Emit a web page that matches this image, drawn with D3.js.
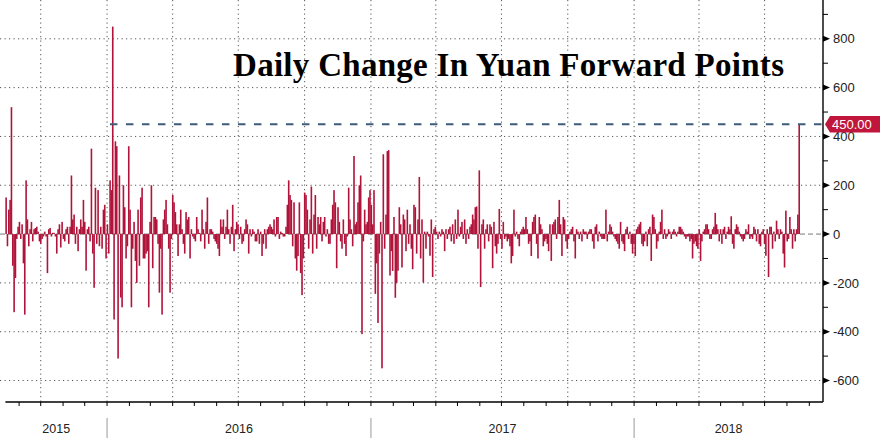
<!DOCTYPE html>
<html><head><meta charset="utf-8">
<script src="https://cdn.jsdelivr.net/npm/d3@7"></script>
<style>
html,body{margin:0;padding:0;background:#fff;}
svg{display:block;}
</style></head>
<body>
<svg id="chart" width="888" height="438"></svg>
<script>
// ---------------- DATA ----------------
const title = "Daily Change In Yuan Forward Points";
const firstDate = "2015-08-14";
const lastDate = "2018-08-18";
// daily change in forward points, read left to right off the picture
const values = [
  // Aug 2015 - Jan 2016
  150,-50,100,140,520,-130,-320,-180,-20,30,
  50,-20,40,-120,-330,220,60,-50,20,50,
  -30,20,25,30,10,-30,-40,-20,-10,10,
  -10,-160,20,25,-10,5,5,-10,-80,20,
  40,-55,50,-20,-30,20,30,-40,30,240,
  60,80,-40,30,-70,20,60,30,140,50,
  -150,20,30,-30,350,-80,-220,190,-40,180,
  -50,30,-60,100,120,-100,40,-80,220,180,
  850,-350,380,360,-510,
  // Jan 2016 - Jun 2016
  240,-260,-300,200,110,-100,-50,360,100,-300,
  -60,50,-110,-200,100,-130,150,190,-100,-100,
  -80,-70,-300,50,200,-140,70,70,60,-40,
  -240,-60,-330,60,100,140,40,-60,-240,-20,
  160,130,90,40,-90,40,100,20,-40,-80,
  90,60,70,-100,20,-10,-20,-30,70,20,
  5,-30,100,20,-60,50,150,-40,20,20,
  10,-20,-30,-40,-60,-90,60,30,60,-20,
  30,100,20,-40,30,120,-70,20,
  // Jun 2016 - Dec 2016
  50,40,-20,30,-40,-30,20,60,40,-80,
  20,-10,20,10,-30,-30,20,-40,10,-90,
  -40,20,-60,20,30,40,30,20,60,-10,
  70,70,-20,10,5,-10,-10,30,120,220,
  160,140,-50,130,-100,-150,-90,130,-160,-250,
  -100,170,160,100,-60,60,195,-80,80,160,
  -60,70,40,70,-30,50,70,-10,20,-40,
  -40,60,120,180,130,-140,110,50,-30,-60,
  60,-40,-90,-10,190,60,20,-50,320,
  // Dec 2016 - Jun 2017
  40,50,130,200,240,-410,-30,100,40,50,
  150,180,120,40,180,-245,-120,-364,-80,50,
  -550,327,-60,80,340,344,-170,-70,-151,70,
  -261,-200,-150,110,40,-137,80,60,-70,100,
  -40,40,-60,-144,120,110,-80,60,234,-100,
  60,-199,10,-60,10,-10,-89,60,-176,20,
  30,10,-20,10,-10,20,10,-70,20,-20,
  20,30,-30,40,-40,60,-20,100,-10,30,
  50,-20,60,-40,20,-20,30,40,
  // Jun 2017 - Dec 2017
  80,60,110,113,-60,261,-217,40,60,-60,
  20,40,-30,40,30,-140,50,-50,-80,-40,
  103,-20,-60,50,-20,-10,-30,-20,-50,-120,
  -90,100,-10,10,-20,-50,10,20,30,20,
  70,20,-40,-30,-90,50,70,80,-40,-100,
  70,40,20,-50,-30,-20,-40,-70,40,-110,
  40,50,60,-20,70,140,40,-90,70,60,
  -30,-60,-20,10,20,30,-30,-100,20,10,
  -20,10,-30,20,10,10,-20,10,20,
  // Dec 2017 - Jun 2018
  20,-30,-60,30,40,-30,10,-10,-20,-20,
  -20,100,-30,10,40,30,10,-10,-20,-30,
  -40,-60,50,-30,-40,-70,20,30,-20,10,
  -40,-80,-40,-90,20,30,40,50,-40,-50,
  -30,10,-50,20,30,-110,80,70,20,-60,
  -30,10,50,100,-20,20,-20,-10,20,10,
  -20,10,20,10,-10,10,30,30,20,10,
  -10,-20,-10,-10,-30,-20,-100,-40,-30,-50,
  -60,20,-110,-30,10,20,40,40,
  // Jun 2018 - Aug 2018
  20,-20,-20,20,30,87,40,20,-30,20,
  -40,20,30,-20,10,30,20,73,-40,-60,
  20,40,30,10,-10,-20,-30,-20,20,10,
  40,-20,-10,-20,30,20,-30,20,-40,-50,
  10,20,-40,-89,20,-176,30,30,-60,10,
  -30,55,20,-20,20,10,-80,-137,96,-30,
  -20,70,20,-60,20,-30,20,80,450
];
const yTicks = [800,600,400,200,0,-200,-400,-600];
const yMinorTicks = [900,700,500,300,100,-100,-300,-500];
const years = [2015,2016,2017,2018];
const refLevel = 450;
const refLabel = "450.00";
const refStartDate = "2016-01-05";
const xDomain = ["2015-08-13","2018-09-20"];
const yDomain = [-688, 959];

// ---------------- LAYOUT ----------------
const plotLeft = 5.4, plotRight = 823, plotTop = 0, plotBottom = 402;
const barColor = "#b0143a";
const parse = d3.utcParse("%Y-%m-%d");

const svg = d3.select("#chart");
const x = d3.scaleUtc().domain(xDomain.map(parse)).range([plotLeft, plotRight]);
const y = d3.scaleLinear().domain(yDomain).range([plotBottom, plotTop]);

const t0 = parse(firstDate).getTime(), t1 = parse(lastDate).getTime();
const idxToTime = d3.scaleLinear().domain([0, values.length - 1]).range([t0, t1]);
const data = values.map((v, i) => ({date: new Date(idxToTime(i)), value: v}));

// grid: horizontal dotted
const grid = svg.append("g");
grid.selectAll("line.h").data(yTicks.filter(t => t !== 0)).join("line")
  .attr("x1", 0).attr("x2", plotRight)
  .attr("y1", d => y(d)).attr("y2", d => y(d))
  .attr("stroke", "#555").attr("stroke-width", 1).attr("stroke-dasharray", "1.2,3.3");
// vertical dotted at quarters
const quarters = d3.utcMonth.every(3).range(x.domain()[0], x.domain()[1]);
grid.selectAll("line.v").data(quarters).join("line")
  .attr("x1", d => x(d)).attr("x2", d => x(d))
  .attr("y1", plotTop).attr("y2", plotBottom)
  .attr("stroke", "#555").attr("stroke-width", 1).attr("stroke-dasharray", "1.2,3.3");

// zero line
svg.append("line")
  .attr("x1", 0).attr("x2", plotRight)
  .attr("y1", y(0)).attr("y2", y(0))
  .attr("stroke", "#777").attr("stroke-width", 1).attr("stroke-dasharray", "5,3");

// title
svg.append("text")
  .attr("x", 233).attr("y", 76)
  .attr("font-family", "'Liberation Serif','Times New Roman',serif")
  .attr("font-weight", "bold").attr("font-size", 33)
  .attr("textLength", 551).attr("lengthAdjust", "spacing")
  .attr("fill", "#000")
  .text(title);

// bars
const bw = 1.6;
svg.append("g").selectAll("rect").data(data).join("rect")
  .attr("x", d => x(d.date) - bw / 2)
  .attr("width", bw)
  .attr("y", d => Math.min(y(d.value), y(0)))
  .attr("height", d => Math.abs(y(d.value) - y(0)))
  .attr("fill", barColor);

// reference dashed line
svg.append("line")
  .attr("x1", x(parse(refStartDate))).attr("x2", plotRight)
  .attr("y1", y(refLevel)).attr("y2", y(refLevel))
  .attr("stroke", "#3f5c78").attr("stroke-width", 2.2).attr("stroke-dasharray", "7.5,8.5");

// right axis
const ax = svg.append("g");
ax.append("line").attr("x1", plotRight).attr("x2", plotRight).attr("y1", 0).attr("y2", plotBottom)
  .attr("stroke", "#000").attr("stroke-width", 1.4);
ax.selectAll("path.tri").data(yTicks).join("path")
  .attr("d", d => `M${plotRight},${y(d)-3}L${plotRight+7},${y(d)}L${plotRight},${y(d)+3}Z`)
  .attr("fill", "#000");
ax.selectAll("line.minor").data(yMinorTicks).join("line")
  .attr("x1", plotRight).attr("x2", plotRight + 5)
  .attr("y1", d => y(d)).attr("y2", d => y(d))
  .attr("stroke", "#000").attr("stroke-width", 1);
ax.selectAll("text").data(yTicks).join("text")
  .attr("x", plotRight + 10).attr("y", d => y(d))
  .attr("dy", "0.36em")
  .attr("font-family", "'Liberation Sans',Arial,sans-serif").attr("font-size", 13)
  .attr("fill", "#222")
  .text(d => d3.format("d")(d).replace("−", "-"));

// reference label (drawn over the 400 tick label, as in the original)
const ry = y(refLevel);
svg.append("path")
  .attr("d", `M${plotRight+2},${ry}L${plotRight+7},${ry-8.3}L880,${ry-8.3}L880,${ry+8.3}L${plotRight+7},${ry+8.3}Z`)
  .attr("fill", "#c0163b");
svg.append("text")
  .attr("x", plotRight + 9).attr("y", ry).attr("dy", "0.36em")
  .attr("font-family", "'Liberation Sans',Arial,sans-serif").attr("font-size", 13)
  .attr("fill", "#fff").text(refLabel);

// bottom axis
const bx = svg.append("g");
bx.append("line").attr("x1", plotLeft).attr("x2", plotRight).attr("y1", plotBottom).attr("y2", plotBottom)
  .attr("stroke", "#000").attr("stroke-width", 1.4);
const months = d3.utcMonth.range(x.domain()[0], x.domain()[1]);
bx.selectAll("line.m").data(months).join("line")
  .attr("x1", d => x(d)).attr("x2", d => x(d))
  .attr("y1", plotBottom).attr("y2", plotBottom + 4)
  .attr("stroke", "#000").attr("stroke-width", 1);
const yearStarts = years.slice(1).map(yr => new Date(Date.UTC(yr, 0, 1)));
bx.selectAll("line.y").data(yearStarts).join("line")
  .attr("x1", d => x(d)).attr("x2", d => x(d))
  .attr("y1", 418).attr("y2", 438)
  .attr("stroke", "#999").attr("stroke-width", 1);
bx.selectAll("text").data(years).join("text")
  .attr("x", yr => {
    const a = Math.max(x(new Date(Date.UTC(yr, 0, 1))), plotLeft);
    const b = Math.min(x(new Date(Date.UTC(yr + 1, 0, 1))), plotRight);
    return (a + b) / 2;
  })
  .attr("y", 433)
  .attr("text-anchor", "middle")
  .attr("font-family", "'Liberation Sans',Arial,sans-serif").attr("font-size", 12.5)
  .attr("fill", "#222")
  .text(d => d);
</script>
</body></html>
